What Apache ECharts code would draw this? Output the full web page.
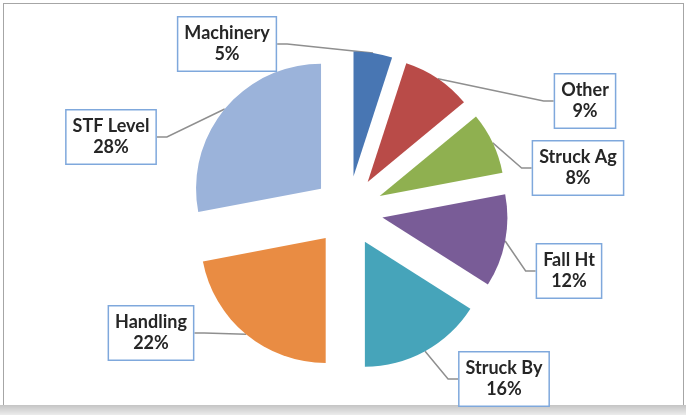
<!DOCTYPE html>
<html>
<head>
<meta charset="utf-8">
<script src="https://cdn.jsdelivr.net/npm/echarts@6/dist/echarts.min.js"></script>
<style>
  html, body { margin: 0; padding: 0; background: #fff; }
  .wrap { position: relative; width: 686px; height: 415px; overflow: hidden; }
  .frame { position: absolute; left: 3px; top: 3px; width: 679px; height: 402px; border: 1px solid #a6a6a6; border-bottom: none; }
  .shadow { position: absolute; left: 0; top: 405px; width: 686px; height: 10px; background: linear-gradient(#c4c4c4, #ececec); }
  .com-chart { position: absolute; left: 0; top: 0; width: 686px; height: 415px; }
</style>
</head>
<body>
<div class="wrap">
  <div class="frame"></div>
  <div class="shadow"></div>
  <div class="com-chart" id="main"></div>
</div>
<script>
// 分类与占比（%）
const categories = ["Machinery", "Other", "Struck Ag", "Fall Ht", "Struck By", "Handling", "STF Level"];
const values = [5, 9, 8, 12, 16, 22, 28];
const colors = ["#4876b3", "#b94b48", "#8fb050", "#795c97", "#46a4ba", "#e98c43", "#9bb3da"];

// 标签框中心位置（布局用）
const labelCenters = {
  "Machinery": [227, 44],
  "Other": [585, 101],
  "Struck Ag": [578, 168],
  "Fall Ht": [569, 271],
  "Struck By": [504, 379],
  "Handling": [151, 333],
  "STF Level": [111, 137]
};

const chartInstance = echarts.init(document.getElementById("main"));

const CENTER = [348, 211];
const RADIUS = 125;
const OFFSET = 35;

// 分离的扇区
const pieData = categories.map((name, i) => {
  return {
    name: name,
    value: values[i],
    selected: true,
    itemStyle: { color: colors[i] }
  };
});

// 透明外圈，只用来挂标签和引导线
const labelData = categories.map((name, i) => {
  return { name: name, value: values[i] };
});

const option = {
  animation: false,
  series: [
    {
      type: "pie",
      center: CENTER,
      radius: RADIUS,
      startAngle: 90,
      clockwise: true,
      selectedMode: "multiple",
      selectedOffset: OFFSET,
      data: pieData,
      label: { show: false },
      labelLine: { show: false },
      emphasis: { disabled: true },
      silent: true
    },
    {
      type: "pie",
      center: CENTER,
      radius: RADIUS + OFFSET,
      startAngle: 90,
      clockwise: true,
      silent: true,
      data: labelData,
      itemStyle: { color: "rgba(0,0,0,0)" },
      label: {
        show: true,
        formatter: "{b}\n{c}%",
        fontFamily: "Lato",
        fontWeight: "bold",
        fontSize: 18,
        lineHeight: 21,
        color: "#262626",
        align: "center",
        backgroundColor: "#fff",
        borderColor: "#7fa8dc",
        borderWidth: 1.5,
        padding: [6, 6, 5, 6]
      },
      labelLine: {
        show: true,
        length: 10,
        length2: 10,
        lineStyle: { color: "#8f8f8f", width: 1.5 }
      },
      // 手动摆放标签
      labelLayout: (params) => {
        const pos = labelCenters[categories[params.dataIndex]];
        return {
          x: pos[0],
          y: pos[1],
          align: "center",
          verticalAlign: "middle"
        };
      },
      emphasis: { disabled: true }
    }
  ]
};
chartInstance.setOption(option);
</script>
</body>
</html>
